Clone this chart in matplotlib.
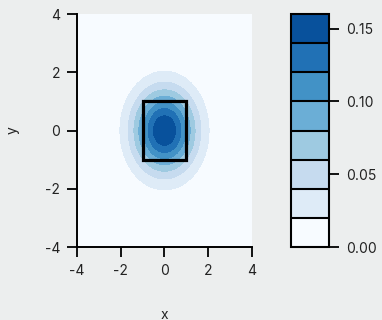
import matplotlib
matplotlib.use("Agg")
import matplotlib.pyplot as plt
import numpy as np
from matplotlib.patches import Rectangle
from matplotlib.colors import ListedColormap

# grid and density (standard bivariate normal)
xs = np.linspace(-4, 4, 161)
ys = np.linspace(-4, 4, 161)
levels = [0.0, 0.02, 0.04, 0.06, 0.08, 0.10, 0.12, 0.14, 0.16]
level_colors = ["#f7fbff", "#deebf7", "#c6dbef", "#9ecae1",
                "#6baed6", "#4292c6", "#2171b5", "#08519c"]
cbar_ticks = [0.0, 0.05, 0.10, 0.15]
cbar_labels = ["0.00", "0.05", "0.10", "0.15"]
axis_ticks = [-4, -2, 0, 2, 4]
box_lo = (-1, -1)
box_size = (2, 2)

X, Y = np.meshgrid(xs, ys)
Z = np.exp(-(X**2 + Y**2) / 2) / (2 * np.pi)

plt.rcParams['font.family'] = ['Inter', 'DejaVu Sans']
plt.rcParams['axes.unicode_minus'] = False
bg = "#eceeee"
fig = plt.figure(figsize=(3.82, 3.2), dpi=100, facecolor=bg)
ax = fig.add_axes([0.2016, 0.228, 0.458, 0.728])
cax = fig.add_axes([0.7618, 0.228, 0.0995, 0.728])

cf = ax.contourf(X, Y, Z, levels=levels, cmap=ListedColormap(level_colors))
ax.add_patch(Rectangle(box_lo, *box_size, fill=False, edgecolor="black", lw=2.3, zorder=3))

ax.set_xlim(-4, 4)
ax.set_ylim(-4, 4)
ax.set_xticks(axis_ticks)
ax.set_yticks(axis_ticks)
for s in ["top", "right"]:
    ax.spines[s].set_visible(False)
for s in ["left", "bottom"]:
    ax.spines[s].set_linewidth(1.4)
ax.tick_params(length=7, width=1.3, labelsize=10, pad=5, color="black", labelcolor="#222222")
ax.set_xlabel("x", fontsize=10, labelpad=22, color="#222222")
ax.set_ylabel("y", fontsize=10, labelpad=18, color="#222222")

cb = fig.colorbar(cf, cax=cax, drawedges=True)
cb.set_ticks(cbar_ticks)
cb.ax.set_yticklabels(cbar_labels)
cb.outline.set_linewidth(1.5)
cb.dividers.set_linewidth(1.5)
cb.dividers.set_color("black")
cb.ax.tick_params(length=7, width=1.3, labelsize=10, pad=5, labelcolor="#222222")

fig.savefig("out.png", dpi=100, facecolor=bg)
